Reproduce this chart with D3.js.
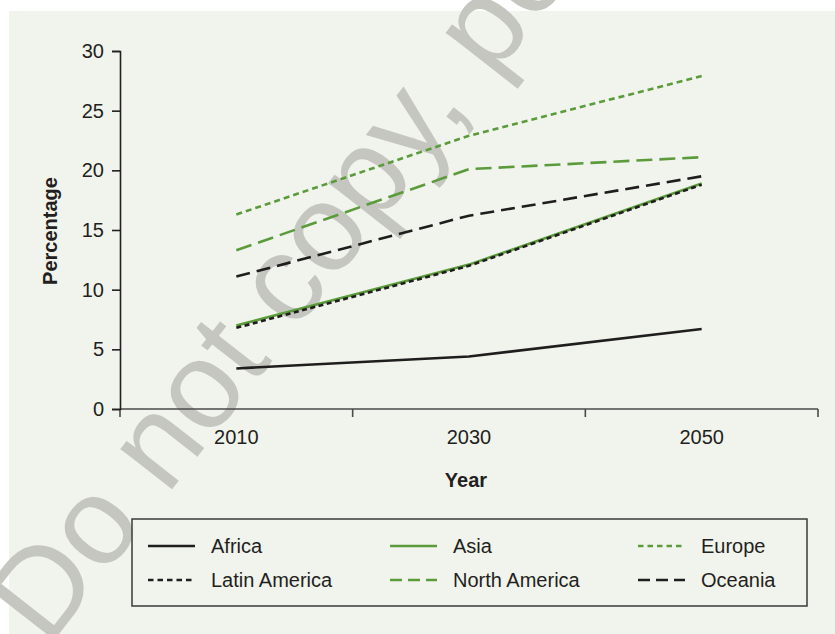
<!DOCTYPE html>
<html>
<head>
<meta charset="utf-8">
<script src="https://cdn.jsdelivr.net/npm/d3@7"></script>
<style>
  body { margin: 0; background: #fff; }
  svg { display: block; font-family: "Liberation Sans", Arial, sans-serif; }
</style>
</head>
<body>
<div id="chart"></div>
<script>
// Chart data
const years = ["2010", "2030", "2050"];
const regions = ["Africa", "Asia", "Europe", "Latin America", "North America", "Oceania"];
const africa = [3.4, 4.4, 6.7];
const asia = [7.0, 12.1, 18.9];
const europe = [16.3, 22.9, 27.9];
const latinAmerica = [6.8, 12.0, 18.8];
const northAmerica = [13.3, 20.1, 21.1];
const oceania = [11.1, 16.2, 19.5];
const yTicks = [0, 5, 10, 15, 20, 25, 30];

const green = "#5b9b3b";
const black = "#1f1d1d";

// line styles per region
const styles = {
  "Africa": { color: black, dash: null },
  "Asia": { color: green, dash: null },
  "Europe": { color: green, dash: "6,4" },
  "Latin America": { color: black, dash: "5,3.5" },
  "North America": { color: green, dash: "16,7" },
  "Oceania": { color: black, dash: "14,7" }
};

const seriesValues = [africa, asia, europe, latinAmerica, northAmerica, oceania];
const series = regions.map((name, i) => ({ name: name, values: seriesValues[i] }));

const width = 835, height = 634;
const svg = d3.select("#chart")
  .append("svg")
  .attr("width", width)
  .attr("height", height);

// panel background
svg.append("rect")
  .attr("x", 9).attr("y", 11)
  .attr("width", width - 9).attr("height", height - 11)
  .attr("fill", "#f1f4ec");

// watermark
svg.append("text")
  .attr("transform", "translate(48,648) rotate(-52)")
  .attr("font-size", 124)
  .attr("fill", "#c5c6c0")
  .text("Do not copy, post");

const x = d3.scaleBand()
  .domain(years)
  .range([120, 818]);

const y = d3.scaleLinear()
  .domain([0, 30])
  .range([409, 51]);

// x axis line and boundary ticks
const xAxis = svg.append("g");
xAxis.append("line")
  .attr("x1", x.range()[0]).attr("x2", x.range()[1])
  .attr("y1", y(0)).attr("y2", y(0))
  .attr("stroke", "#4a4a4a").attr("stroke-width", 1.6);
const bounds = years.map(d => x(d)).concat([x(years[years.length - 1]) + x.bandwidth()]);
xAxis.selectAll(".xt")
  .data(bounds)
  .enter().append("line")
  .attr("x1", d => d).attr("x2", d => d)
  .attr("y1", y(0)).attr("y2", y(0) + 8)
  .attr("stroke", "#4a4a4a").attr("stroke-width", 1.6);
xAxis.selectAll(".xl")
  .data(years)
  .enter().append("text")
  .attr("x", d => x(d) + x.bandwidth() / 2)
  .attr("y", 444)
  .attr("text-anchor", "middle")
  .attr("font-size", 20)
  .attr("fill", "#231f20")
  .text(d => d);

// y axis
const yAxis = svg.append("g")
  .attr("transform", "translate(120,0)")
  .call(d3.axisLeft(y).tickValues(yTicks).tickSize(8).tickPadding(8));
yAxis.select(".domain").attr("stroke", "#231f20").attr("stroke-width", 1.6);
yAxis.selectAll(".tick line").attr("stroke", "#231f20").attr("stroke-width", 1.6);
yAxis.selectAll(".tick text")
  .attr("font-size", 20)
  .attr("font-family", "Liberation Sans, Arial, sans-serif")
  .attr("fill", "#231f20");

// axis titles
svg.append("text")
  .attr("x", 466).attr("y", 487)
  .attr("text-anchor", "middle")
  .attr("font-size", 20).attr("font-weight", "bold")
  .attr("fill", "#231f20")
  .text("Year");
svg.append("text")
  .attr("transform", "translate(57,231) rotate(-90)")
  .attr("text-anchor", "middle")
  .attr("font-size", 20).attr("font-weight", "bold")
  .attr("fill", "#231f20")
  .text("Percentage");

// lines
const line = d3.line()
  .x((d, i) => x(years[i]) + x.bandwidth() / 2)
  .y(d => y(d));

svg.selectAll(".series")
  .data(series)
  .enter().append("path")
  .attr("d", d => line(d.values))
  .attr("fill", "none")
  .attr("stroke", d => styles[d.name].color)
  .attr("stroke-width", 2.6)
  .attr("stroke-dasharray", d => styles[d.name].dash);

// legend
const legend = svg.append("g");
legend.append("rect")
  .attr("x", 132).attr("y", 519)
  .attr("width", 675).attr("height", 87)
  .attr("fill", "none")
  .attr("stroke", "#3a3a3a").attr("stroke-width", 1.5);

const colX = [148, 390, 638];
const rowY = [546, 580];
const items = legend.selectAll(".item")
  .data(series)
  .enter().append("g")
  .attr("transform", (d, i) => `translate(${colX[i % 3]},${rowY[Math.floor(i / 3)]})`);
items.append("line")
  .attr("x1", 0).attr("x2", 47)
  .attr("y1", 0).attr("y2", 0)
  .attr("stroke", d => styles[d.name].color)
  .attr("stroke-width", 2.6)
  .attr("stroke-dasharray", d => styles[d.name].dash ? (styles[d.name].dash.startsWith("1") ? "12,6" : "5.5,4") : null);
items.append("text")
  .attr("x", 63).attr("y", 7)
  .attr("font-size", 20)
  .attr("fill", "#231f20")
  .text(d => d.name);
</script>
</body>
</html>
